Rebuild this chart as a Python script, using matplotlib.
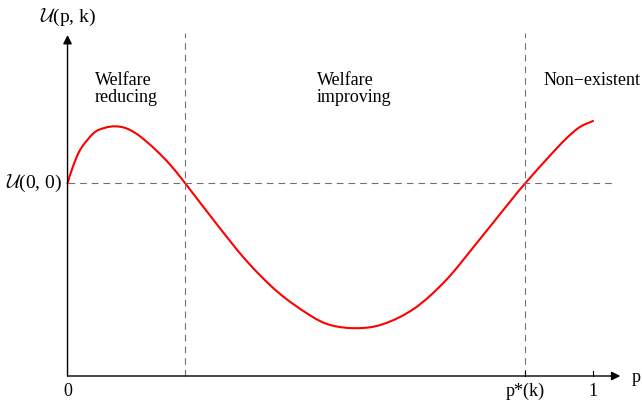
import matplotlib
matplotlib.use("Agg")
import matplotlib.pyplot as plt
from matplotlib.path import Path
from matplotlib.patches import PathPatch

plt.rcParams["font.family"] = ["Liberation Serif", "DejaVu Serif"]
plt.rcParams["mathtext.fontset"] = "cm"

# Welfare curve U(p, k) against the price p (p in [0, 1])
p_vals = [0.000, 0.010, 0.025, 0.050, 0.070, 0.090, 0.110, 0.130, 0.150,
          0.170, 0.195, 0.224, 0.280, 0.340, 0.400, 0.460, 0.500, 0.550,
          0.600, 0.660, 0.720, 0.780, 0.840, 0.871, 0.920, 0.950, 0.975,
          1.000]
u_vals = [1.927, 2.090, 2.270, 2.430, 2.480, 2.497, 2.480, 2.427, 2.345,
          2.250, 2.115, 1.927, 1.545, 1.155, 0.840, 0.612, 0.510, 0.478,
          0.518, 0.675, 0.957, 1.338, 1.730, 1.927, 2.215, 2.380, 2.490,
          2.550]

u00 = 1.927          # level of U(0, 0)
p_low = 0.224        # first crossing of U(0, 0)
p_star = 0.871       # p*(k)

x_tick_pos = [0.0, p_star, 1.0]
x_tick_labels = ["0", "p*(k)", "1"]

region_labels = ["Welfare\nreducing", "Welfare\nimproving", "Non\u2212existent"]
region_x = [0.052, 0.475, 0.905]


def smooth_path(xs, ys):
    """Catmull-Rom style Bezier path running through every given point."""
    verts = [(xs[0], ys[0])]
    codes = [Path.MOVETO]
    n = len(xs)
    for i in range(n - 1):
        x0, y0 = (xs[i - 1], ys[i - 1]) if i > 0 else (xs[i], ys[i])
        x1, y1 = xs[i], ys[i]
        x2, y2 = xs[i + 1], ys[i + 1]
        x3, y3 = (xs[i + 2], ys[i + 2]) if i + 2 < n else (x2, y2)
        c1 = (x1 + (x2 - x0) / 6.0, y1 + (y2 - y0) / 6.0)
        c2 = (x2 - (x3 - x1) / 6.0, y2 - (y3 - y1) / 6.0)
        verts += [c1, c2, (x2, y2)]
        codes += [Path.CURVE4] * 3
    return Path(verts, codes)


fig = plt.figure(figsize=(6.42, 4.0), dpi=100)
ax = fig.add_axes([0, 0, 1, 1])
ax.set_xlim(-0.1285, 1.0932)
ax.set_ylim(-0.24, 3.76)
ax.axis("off")

x_end = 1.052
y_top = 3.41

# axes with arrow heads
ax.annotate("", xy=(x_end, 0), xytext=(0, 0),
            arrowprops=dict(arrowstyle="-|>", color="black", lw=1.0,
                            mutation_scale=13, shrinkA=0, shrinkB=0))
ax.annotate("", xy=(0, y_top), xytext=(0, 0),
            arrowprops=dict(arrowstyle="-|>", color="black", lw=1.0,
                            mutation_scale=13, shrinkA=0, shrinkB=0))

# guide lines
dash = dict(color="#707070", lw=0.8, dashes=(6, 4.5))
ax.plot([0, 1.042], [u00, u00], **dash)
ax.plot([p_low, p_low], [0, 3.43], **dash)
ax.plot([p_star, p_star], [0, 3.43], **dash)

# small ticks on the p axis
for xt in x_tick_pos[1:]:
    ax.plot([xt, xt], [0, 0.05], color="black", lw=0.8)

# the curve
ax.add_patch(PathPatch(smooth_path(p_vals, u_vals), facecolor="none",
                       edgecolor="red", lw=1.5, capstyle="round"))

# tick labels
for xt, lab in zip(x_tick_pos, x_tick_labels):
    ax.text(xt, -0.15, lab, ha="center", va="center", fontsize=13)
ax.text(1.082, -0.02, "p", ha="center", va="center", fontsize=13)

ax.text(-0.01, u00, r"$\mathcal{U}$(0, 0)", ha="right", va="center", fontsize=14)
ax.text(0.0, 3.59, r"$\mathcal{U}$(p, k)", ha="center", va="center", fontsize=14)

# region labels
for xr, lab in zip(region_x, region_labels):
    ax.text(xr, 3.04, lab, ha="left", va="top", fontsize=13, linespacing=1.0)

fig.savefig("out.png", dpi=100)
